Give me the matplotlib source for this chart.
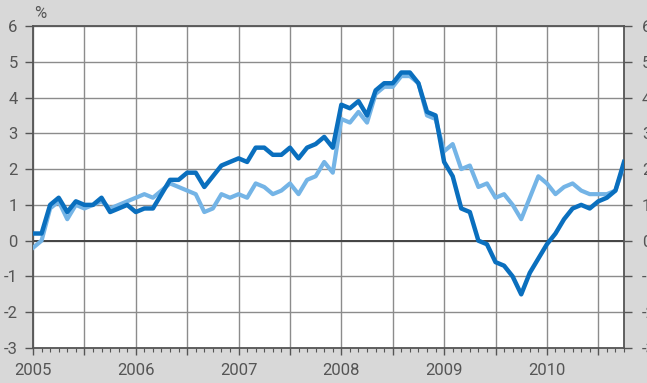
import numpy as np
import matplotlib
matplotlib.use("Agg")
import matplotlib.pyplot as plt

# monthly values, Jan 2005 .. Oct 2010 (%)
dark_line = [0.2, 0.2, 1.0, 1.2, 0.8, 1.1, 1.0, 1.0, 1.2, 0.8, 0.9, 1.0,
             0.8, 0.9, 0.9, 1.3, 1.7, 1.7, 1.9, 1.9, 1.5, 1.8, 2.1, 2.2,
             2.3, 2.2, 2.6, 2.6, 2.4, 2.4, 2.6, 2.3, 2.6, 2.7, 2.9, 2.6,
             3.8, 3.7, 3.9, 3.5, 4.2, 4.4, 4.4, 4.7, 4.7, 4.4, 3.6, 3.5,
             2.2, 1.8, 0.9, 0.8, 0.0, -0.1, -0.6, -0.7, -1.0, -1.5, -0.9, -0.5,
             -0.1, 0.2, 0.6, 0.9, 1.0, 0.9, 1.1, 1.2, 1.4, 2.2]
light_line = [-0.2, 0.0, 0.9, 1.1, 0.6, 1.0, 0.9, 1.0, 1.1, 0.9, 1.0, 1.1,
              1.2, 1.3, 1.2, 1.4, 1.6, 1.5, 1.4, 1.3, 0.8, 0.9, 1.3, 1.2,
              1.3, 1.2, 1.6, 1.5, 1.3, 1.4, 1.6, 1.3, 1.7, 1.8, 2.2, 1.9,
              3.4, 3.3, 3.6, 3.3, 4.1, 4.3, 4.3, 4.6, 4.6, 4.4, 3.5, 3.4,
              2.5, 2.7, 2.0, 2.1, 1.5, 1.6, 1.2, 1.3, 1.0, 0.6, 1.2, 1.8,
              1.6, 1.3, 1.5, 1.6, 1.4, 1.3, 1.3, 1.3, 1.4, 2.1]
half_year_ticks = [2005, 2005.5, 2006, 2006.5, 2007, 2007.5, 2008, 2008.5,
                   2009, 2009.5, 2010, 2010.5]
half_year_labels = ["2005", "", "2006", "", "2007", "", "2008", "",
                    "2009", "", "2010", ""]
y_ticks = [-3, -2, -1, 0, 1, 2, 3, 4, 5, 6]

x = 2005 + np.arange(len(dark_line)) / 12

font = ["Roboto", "DejaVu Sans"]
grey = "#555555"

fig = plt.figure(figsize=(6.47, 3.83), dpi=100)
fig.patch.set_facecolor("#d8d8d8")
ax = fig.add_axes([33 / 647, 35 / 383, 591 / 647, 322 / 383])
ax.set_facecolor("white")

ax.plot(x, light_line, color="#74b4e6", lw=3.0, zorder=3)
ax.plot(x, dark_line, color="#0a6fbe", lw=3.2, zorder=4)

ax.set_xlim(2005, x[-1])
ax.set_ylim(-3, 6)
ax.set_xticks(half_year_ticks)
ax.set_xticklabels(half_year_labels, family=font, fontsize=12, color=grey)
ax.set_xticks(x, minor=True)
ax.set_yticks(y_ticks)
ax.set_yticklabels([str(v) for v in y_ticks], family=font, fontsize=12, color=grey)

ax.grid(True, which="major", color="#8c8c8c", lw=1.0, zorder=1)
ax.axhline(0, color="#444444", lw=1.4, zorder=2)
for s in ax.spines.values():
    s.set_color(grey)
    s.set_linewidth(1.3)

ax.tick_params(axis="y", direction="out", length=6, width=1, color=grey, pad=5)
ax.tick_params(axis="x", which="major", direction="out", length=5, width=1, color=grey, pad=6)
ax.tick_params(axis="x", which="minor", direction="out", length=3, width=0.8, color=grey)

ax2 = ax.twinx()
ax2.set_ylim(-3, 6)
ax2.set_yticks(y_ticks)
ax2.set_yticklabels([str(v) for v in y_ticks], family=font, fontsize=12, color=grey)
ax2.tick_params(axis="y", direction="out", length=6, width=1, color=grey, pad=7)
for s in ax2.spines.values():
    s.set_visible(False)

fig.text(34 / 647, 1 - 6 / 383, "%", ha="left", va="top", family=font, fontsize=12, color=grey)

fig.savefig("out.png", dpi=100, facecolor=fig.get_facecolor())
